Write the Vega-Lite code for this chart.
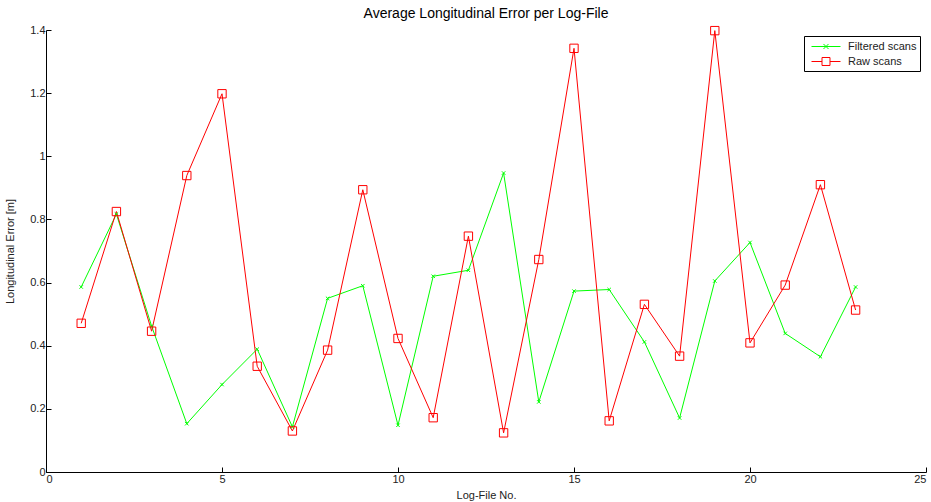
{
  "$schema": "https://vega.github.io/schema/vega-lite/v6.json",
  "autosize": "none",
  "width": 880,
  "height": 442,
  "padding": {"left": 46, "top": 30, "right": 5, "bottom": 30},
  "background": "white",
  "config": {
    "view": {"stroke": null},
    "font": "Liberation Sans",
    "axis": {
      "domainColor": "black",
      "tickColor": "black",
      "labelColor": "#222",
      "titleColor": "#222",
      "labelFont": "Liberation Sans",
      "titleFont": "Liberation Sans",
      "labelFontSize": 11,
      "titleFontSize": 11,
      "titleFontWeight": "normal",
      "grid": false,
      "tickSize": -5,
      "labelPadding": 6
    }
  },
  "title": {
    "text": "Average Longitudinal Error per Log-File",
    "font": "Liberation Sans",
    "fontSize": 14,
    "fontWeight": "normal",
    "color": "black",
    "offset": 3
  },
  "data": {
    "values": [
      {"file": 1, "series": "Filtered scans", "err": 0.586},
      {"file": 2, "series": "Filtered scans", "err": 0.817},
      {"file": 3, "series": "Filtered scans", "err": 0.462},
      {"file": 4, "series": "Filtered scans", "err": 0.153},
      {"file": 5, "series": "Filtered scans", "err": 0.277},
      {"file": 6, "series": "Filtered scans", "err": 0.389},
      {"file": 7, "series": "Filtered scans", "err": 0.143},
      {"file": 8, "series": "Filtered scans", "err": 0.55},
      {"file": 9, "series": "Filtered scans", "err": 0.59},
      {"file": 10, "series": "Filtered scans", "err": 0.148},
      {"file": 11, "series": "Filtered scans", "err": 0.62},
      {"file": 12, "series": "Filtered scans", "err": 0.639},
      {"file": 13, "series": "Filtered scans", "err": 0.947},
      {"file": 14, "series": "Filtered scans", "err": 0.222},
      {"file": 15, "series": "Filtered scans", "err": 0.573},
      {"file": 16, "series": "Filtered scans", "err": 0.578},
      {"file": 17, "series": "Filtered scans", "err": 0.412},
      {"file": 18, "series": "Filtered scans", "err": 0.171},
      {"file": 19, "series": "Filtered scans", "err": 0.605},
      {"file": 20, "series": "Filtered scans", "err": 0.727},
      {"file": 21, "series": "Filtered scans", "err": 0.439},
      {"file": 22, "series": "Filtered scans", "err": 0.365},
      {"file": 23, "series": "Filtered scans", "err": 0.586},
      {"file": 1, "series": "Raw scans", "err": 0.471},
      {"file": 2, "series": "Raw scans", "err": 0.825},
      {"file": 3, "series": "Raw scans", "err": 0.446},
      {"file": 4, "series": "Raw scans", "err": 0.939},
      {"file": 5, "series": "Raw scans", "err": 1.198},
      {"file": 6, "series": "Raw scans", "err": 0.335},
      {"file": 7, "series": "Raw scans", "err": 0.13},
      {"file": 8, "series": "Raw scans", "err": 0.386},
      {"file": 9, "series": "Raw scans", "err": 0.894},
      {"file": 10, "series": "Raw scans", "err": 0.423},
      {"file": 11, "series": "Raw scans", "err": 0.172},
      {"file": 12, "series": "Raw scans", "err": 0.747},
      {"file": 13, "series": "Raw scans", "err": 0.124},
      {"file": 14, "series": "Raw scans", "err": 0.673},
      {"file": 15, "series": "Raw scans", "err": 1.342},
      {"file": 16, "series": "Raw scans", "err": 0.162},
      {"file": 17, "series": "Raw scans", "err": 0.531},
      {"file": 18, "series": "Raw scans", "err": 0.367},
      {"file": 19, "series": "Raw scans", "err": 1.398},
      {"file": 20, "series": "Raw scans", "err": 0.409},
      {"file": 21, "series": "Raw scans", "err": 0.592},
      {"file": 22, "series": "Raw scans", "err": 0.91},
      {"file": 23, "series": "Raw scans", "err": 0.513}
    ]
  },
  "encoding": {
    "x": {
      "field": "file",
      "type": "quantitative",
      "scale": {"domain": [0, 25], "nice": false, "zero": false},
      "axis": {"values": [0, 5, 10, 15, 20, 25], "title": "Log-File No.", "titlePadding": 5}
    },
    "y": {
      "field": "err",
      "type": "quantitative",
      "scale": {"domain": [0, 1.4], "nice": false},
      "axis": {"values": [0, 0.2, 0.4, 0.6, 0.8, 1, 1.2, 1.4], "format": "~g", "title": "Longitudinal Error [m]", "titlePadding": 14}
    }
  },
  "layer": [
    {
      "mark": {"type": "line", "strokeWidth": 1},
      "encoding": {
        "color": {
          "field": "series",
          "type": "nominal",
          "scale": {"domain": ["Filtered scans", "Raw scans"], "range": ["#00ff00", "#ff0000"]},
          "legend": {
            "title": null,
            "orient": "none",
            "legendX": 758,
            "legendY": 6,
            "strokeColor": "black",
            "fillColor": "white",
            "padding": 3,
            "labelFont": "Liberation Sans",
            "labelFontSize": 11,
            "labelColor": "#222",
            "symbolSize": 196,
            "symbolOffset": 11.5,
            "symbolStrokeWidth": 1,
            "symbolFillColor": "transparent",
            "rowPadding": 2,
            "labelOffset": 14.5,
            "encode": {
              "symbols": {
                "update": {
                  "shape": {"signal": "datum.value == 'Raw scans' ? 'M-2.07,0H-0.57M0.57,0H2.07M-0.57,-0.57H0.57V0.57H-0.57Z' : 'M-2.07,0H2.07M-0.36,-0.36L0.36,0.36M-0.36,0.36L0.36,-0.36'"},
                  "fill": {"value": "transparent"}
                }
              }
            }
          }
        }
      }
    },
    {
      "transform": [{"filter": "datum.series == 'Filtered scans'"}],
      "mark": {"type": "point", "filled": false, "strokeWidth": 1, "opacity": 1, "color": "#00ff00", "shape": "M-1,-1L1,1M-1,1L1,-1", "size": 12}
    },
    {
      "transform": [{"filter": "datum.series == 'Raw scans'"}],
      "mark": {"type": "point", "filled": false, "strokeWidth": 1, "opacity": 1, "color": "#ff0000", "shape": "square", "size": 70}
    }
  ]
}
